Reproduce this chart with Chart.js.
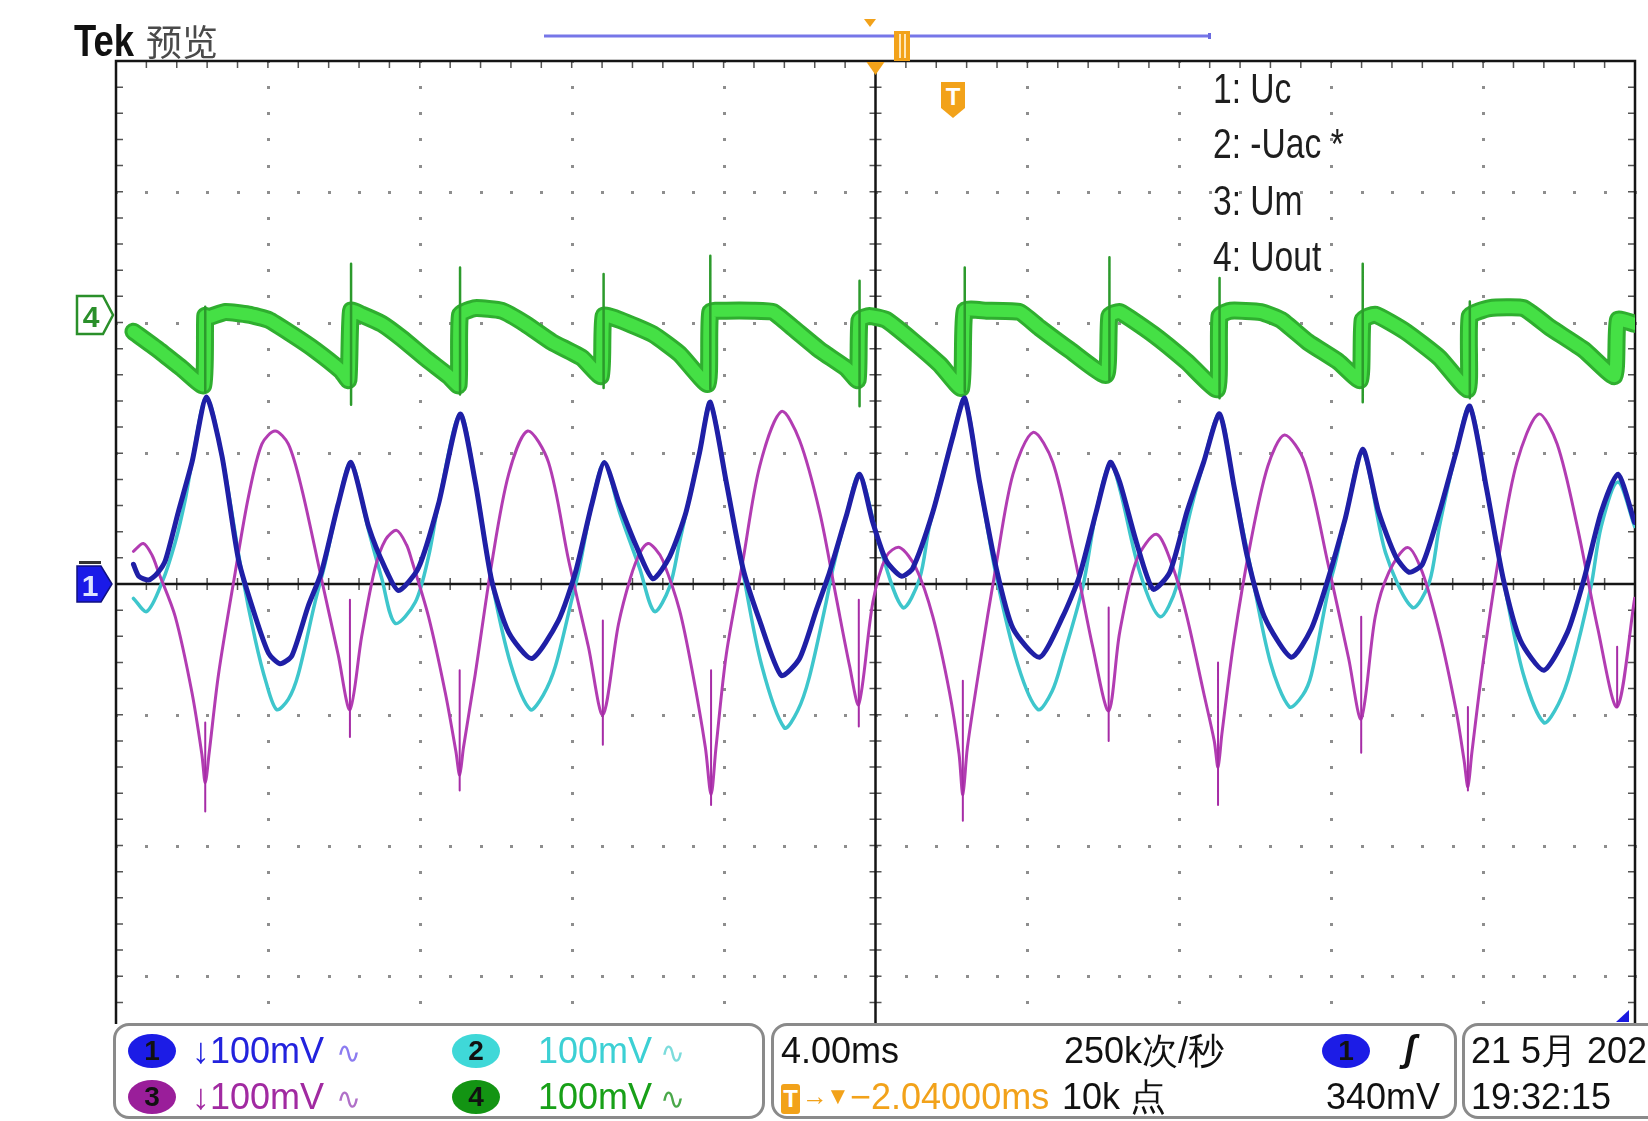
<!DOCTYPE html>
<html>
<head>
<meta charset="utf-8">
<script src="https://cdn.jsdelivr.net/npm/chart.js@4.4.1/dist/chart.umd.min.js"></script>
<style>
  html, body { margin: 0; padding: 0; background: #fff; }
  #wrap { position: relative; width: 1648px; height: 1121px; overflow: hidden; background: #fff;
          font-family: "Liberation Sans", Arial, sans-serif; }
  #scope { position: absolute; left: 0; top: 0; }
  .txt { position: absolute; white-space: nowrap; line-height: 1; transform-origin: 0 50%; }
  .lbl { position: absolute; left: 1213px; font-size: 42px; line-height: 42px; color: #1e1e1e;
         transform: scaleX(0.8); transform-origin: 0 50%; white-space: nowrap; }
  .box { position: absolute; top: 1023px; height: 96px; border: 3px solid #8a8a8a; border-radius: 16px;
         background: #fff; box-sizing: border-box; }
  .badge { position: absolute; width: 48px; height: 34px; border-radius: 50%; text-align: center;
           font: bold 28px/34px "Liberation Sans", Arial, sans-serif; color: #111; }
  .st { position: absolute; font-size: 36px; line-height: 36px; white-space: nowrap; }
  .wave { font-family: "DejaVu Sans", sans-serif; font-size: 30px; }
</style>
</head>
<body>
<div id="wrap">
  <canvas id="scope" width="1648" height="1121" style="width:1648px;height:1121px"></canvas>

  <div class="txt" style="left:74px;top:18px;font-weight:bold;font-size:45px;transform:scaleX(0.81);color:#111">Tek</div>
  <div class="txt" style="left:146px;top:22px;font-family:'Noto Sans CJK SC',sans-serif;font-size:36px;color:#4a4a4a">预览</div>

  <div class="lbl" style="top:68px">1: Uc</div>
  <div class="lbl" style="top:123px">2: -Uac *</div>
  <div class="lbl" style="top:180px">3: Um</div>
  <div class="lbl" style="top:236px">4: Uout</div>

  <div id="trigMark" style="position:absolute;left:941px;top:82px;width:24px;height:36px;background:#f2a21a;
       clip-path:polygon(0 0,100% 0,100% 72%,50% 100%,0 72%);color:#fff;font:bold 24px/30px 'Liberation Sans',sans-serif;text-align:center">T</div>

  <svg id="ch4Mark" width="40" height="42" style="position:absolute;left:75px">
    <polygon points="2,2 28,2 38,21 28,40 2,40" fill="#fff" stroke="#2a8f2a" stroke-width="2.5"/>
    <text x="16" y="33" text-anchor="middle" font-family="Liberation Sans" font-weight="bold" font-size="30" fill="#2a8f2a">4</text>
  </svg>
  <svg id="ch1Mark" width="40" height="44" style="position:absolute;left:75px">
    <rect x="4" y="1" width="22" height="3" fill="#333"/>
    <polygon points="2,6 26,6 37,24 26,42 2,42" fill="#1a1ae8" stroke="#101080" stroke-width="1.5"/>
    <text x="15" y="36" text-anchor="middle" font-family="Liberation Sans" font-weight="bold" font-size="30" fill="#dfe4ff">1</text>
  </svg>

  <!-- status bar -->
  <div class="box" style="left:113px;width:652px"></div>
  <div class="box" style="left:771px;width:686px"></div>
  <div class="box" style="left:1462px;width:240px"></div>

  <div class="badge" style="left:128px;top:1034px;background:#1c1ce6">1</div>
  <div class="st" style="left:192px;top:1033px;color:#2323dd">↓100mV</div>
  <div class="st wave" style="left:336px;top:1035px;color:#8c7cf0">∿</div>
  <div class="badge" style="left:452px;top:1034px;background:#3fd8d8">2</div>
  <div class="st" style="left:538px;top:1033px;color:#3cd0d4">100mV</div>
  <div class="st wave" style="left:660px;top:1035px;color:#7cdcdc">∿</div>

  <div class="badge" style="left:128px;top:1080px;background:#9a1e9a">3</div>
  <div class="st" style="left:192px;top:1079px;color:#a12aa1">↓100mV</div>
  <div class="st wave" style="left:336px;top:1081px;color:#b070c8">∿</div>
  <div class="badge" style="left:452px;top:1080px;background:#139413">4</div>
  <div class="st" style="left:538px;top:1079px;color:#18a018">100mV</div>
  <div class="st wave" style="left:660px;top:1081px;color:#4aa84a">∿</div>

  <div class="st" style="left:781px;top:1033px;color:#111">4.00ms</div>
  <div class="st" style="left:1064px;top:1033px;color:#111">250k次/秒</div>
  <div class="badge" style="left:1322px;top:1034px;background:#1c1ce6">1</div>
  <div class="st" style="left:1404px;top:1031px;color:#111;font-weight:bold;font-style:italic">ʃ</div>
  <div style="position:absolute;left:781px;top:1084px;width:19px;height:30px;border-radius:3px;background:#f2a21a;
       color:#fff;font:bold 24px/30px 'Liberation Sans',sans-serif;text-align:center">T</div>
  <div class="st" style="left:802px;top:1083px;color:#f2a21a;font-size:26px;line-height:26px">→</div>
  <div class="st" style="left:826px;top:1084px;color:#f2a21a;font-size:24px;line-height:24px">▼</div>
  <div class="st" style="left:850px;top:1079px;color:#f2a21a">−2.04000ms</div>
  <div class="st" style="left:1062px;top:1079px;color:#111">10k 点</div>
  <div class="st" style="left:1326px;top:1079px;color:#111">340mV</div>

  <div class="st" style="left:1471px;top:1033px;color:#111">21 5月 2021</div>
  <div class="st" style="left:1471px;top:1079px;color:#111">19:32:15</div>
</div>

<script>
  // screen graticule: 4 ms/div, 100 mV/div (values below are in screen divisions)
  const timeDivs = [-20, -16, -12, -8, -4, 0, 4, 8, 12, 16, 20];
  const voltDivs = [-4, -3, -2, -1, 0, 1, 2, 3, 4];
  const screenBottom = 1024;
  const ch1Offset = 0;
  const ch4Offset = 2.06;

  // [time ms, divisions]
  const uc = [
    [-19.54, 0.15], [-19.40, 0.06], [-19.14, 0.03], [-18.92, 0.08], [-18.70, 0.18], [-18.36, 0.55],
    [-18.00, 0.93], [-17.62, 1.43], [-17.21, 0.98], [-16.77, 0.18], [-16.33, -0.25], [-15.98, -0.53],
    [-15.68, -0.61], [-15.37, -0.55], [-14.94, -0.17], [-14.59, 0.09], [-14.15, 0.61], [-13.81, 0.93],
    [-13.35, 0.44], [-12.91, 0.12], [-12.56, -0.05], [-12.04, 0.12], [-11.51, 0.61], [-10.94, 1.30],
    [-10.54, 0.78], [-10.11, 0.03], [-9.66, -0.37], [-9.05, -0.57], [-8.35, -0.28], [-7.90, 0.09],
    [-7.47, 0.61], [-7.14, 0.93], [-6.74, 0.61], [-6.30, 0.29], [-5.86, 0.04], [-5.42, 0.21],
    [-4.99, 0.55], [-4.63, 1.01], [-4.35, 1.39], [-3.93, 0.78], [-3.49, 0.12], [-3.05, -0.28],
    [-2.48, -0.70], [-2.00, -0.57], [-1.56, -0.20], [-1.21, 0.09], [-0.77, 0.52], [-0.42, 0.84],
    [-0.07, 0.47], [0.28, 0.18], [0.68, 0.06], [0.98, 0.12], [1.51, 0.55], [2.04, 1.13],
    [2.35, 1.42], [2.74, 0.78], [3.18, 0.12], [3.62, -0.34], [4.32, -0.56], [4.93, -0.25],
    [5.37, 0.06], [5.81, 0.55], [6.18, 0.93], [6.43, 0.78], [6.87, 0.32], [7.31, -0.04],
    [7.75, 0.09], [8.20, 0.55], [8.64, 0.93], [9.06, 1.30], [9.44, 0.75], [9.79, 0.21],
    [10.24, -0.25], [10.95, -0.56], [11.48, -0.34], [11.92, 0.04], [12.37, 0.50], [12.83, 1.03],
    [13.25, 0.55], [13.70, 0.21], [14.05, 0.09], [14.40, 0.15], [14.85, 0.55], [15.29, 1.01],
    [15.65, 1.36], [16.09, 0.73], [16.53, 0.04], [16.98, -0.43], [17.60, -0.66], [18.22, -0.37],
    [18.66, 0.04], [19.11, 0.55], [19.55, 0.84], [19.99, 0.47]
  ];

  const minusUac = [
    [-19.54, -0.11], [-19.19, -0.21], [-18.79, 0.01], [-18.44, 0.32], [-18.18, 0.64], [-18.00, 0.93],
    [-17.62, 1.43], [-17.21, 0.98], [-16.69, 0.09], [-16.33, -0.43], [-16.05, -0.75], [-15.77, -0.96],
    [-15.46, -0.88], [-15.20, -0.69], [-14.76, -0.14], [-14.50, 0.15], [-14.15, 0.61], [-13.81, 0.93],
    [-13.35, 0.41], [-13.00, 0.04], [-12.65, -0.30], [-12.12, -0.14], [-11.77, 0.21], [-11.51, 0.61],
    [-10.94, 1.30], [-10.54, 0.78], [-10.11, 0.03], [-9.60, -0.62], [-9.09, -0.96], [-8.75, -0.85],
    [-8.43, -0.63], [-7.99, -0.11], [-7.82, 0.09], [-7.47, 0.61], [-7.14, 0.93], [-6.74, 0.55],
    [-6.21, 0.12], [-5.82, -0.21], [-5.42, -0.02], [-5.16, 0.32], [-4.63, 1.01], [-4.35, 1.39],
    [-3.93, 0.78], [-3.49, 0.09], [-3.00, -0.62], [-2.40, -1.10], [-2.05, -0.97], [-1.74, -0.71],
    [-1.30, -0.14], [-1.12, 0.12], [-0.77, 0.52], [-0.42, 0.84], [0.11, 0.29], [0.72, -0.18],
    [1.16, 0.04], [1.42, 0.44], [2.04, 1.13], [2.35, 1.42], [2.74, 0.78], [3.18, 0.06],
    [3.75, -0.62], [4.28, -0.96], [4.65, -0.82], [4.93, -0.57], [5.46, -0.02], [5.81, 0.55],
    [6.18, 0.93], [6.43, 0.73], [6.96, 0.09], [7.49, -0.25], [7.93, -0.02], [8.20, 0.44],
    [8.64, 0.93], [9.06, 1.30], [9.44, 0.75], [9.88, 0.12], [10.40, -0.60], [10.90, -0.94],
    [11.25, -0.85], [11.48, -0.69], [11.92, -0.05], [12.10, 0.15], [12.37, 0.50], [12.83, 1.01],
    [13.43, 0.24], [14.14, -0.18], [14.58, 0.01], [14.85, 0.44], [15.29, 1.01], [15.65, 1.36],
    [16.09, 0.73], [16.53, 0.04], [17.05, -0.68], [17.60, -1.06], [17.98, -0.92], [18.31, -0.66],
    [18.84, -0.02], [19.11, 0.44], [19.55, 0.78], [19.99, 0.44]
  ];

  const um = [
    [-19.54, 0.25], [-19.28, 0.31], [-19.05, 0.22], [-18.88, 0.09], [-18.44, -0.25], [-18.00, -0.83],
    [-17.74, -1.30], [-17.65, -1.52], [-17.55, -1.30], [-17.30, -0.69], [-16.86, 0.09], [-16.51, 0.67],
    [-16.16, 1.07], [-15.81, 1.17], [-15.46, 1.07], [-15.11, 0.73], [-14.59, 0.04], [-14.15, -0.54],
    [-13.84, -0.96], [-13.53, -0.40], [-13.18, 0.12], [-12.90, 0.34], [-12.61, 0.41], [-12.35, 0.30],
    [-12.21, 0.18], [-11.77, -0.25], [-11.33, -0.83], [-11.05, -1.28], [-10.95, -1.46], [-10.85, -1.25],
    [-10.54, -0.69], [-10.11, 0.15], [-9.66, 0.84], [-9.16, 1.17], [-8.61, 0.93], [-8.08, 0.18],
    [-7.56, -0.48], [-7.18, -1.00], [-6.77, -0.31], [-6.45, 0.05], [-6.20, 0.24], [-5.99, 0.31],
    [-5.80, 0.27], [-5.60, 0.18], [-5.16, -0.20], [-4.81, -0.69], [-4.48, -1.25], [-4.33, -1.61],
    [-4.20, -1.25], [-3.93, -0.54], [-3.49, 0.18], [-3.05, 0.90], [-2.48, 1.32], [-2.00, 1.10],
    [-1.47, 0.55], [-1.03, -0.11], [-0.68, -0.63], [-0.44, -0.92], [-0.07, -0.14], [0.28, 0.21],
    [0.63, 0.28], [1.07, 0.12], [1.51, -0.25], [1.95, -0.83], [2.20, -1.30], [2.30, -1.61],
    [2.42, -1.25], [2.74, -0.63], [3.18, 0.15], [3.62, 0.84], [4.15, 1.16], [4.67, 0.93],
    [5.20, 0.27], [5.72, -0.48], [6.14, -0.97], [6.43, -0.37], [6.87, 0.18], [7.40, 0.38],
    [7.84, 0.12], [8.20, -0.25], [8.64, -0.83], [8.92, -1.20], [9.02, -1.40], [9.12, -1.15],
    [9.44, -0.43], [9.88, 0.32], [10.33, 0.90], [10.77, 1.14], [11.30, 0.93], [11.92, 0.15],
    [12.46, -0.57], [12.79, -1.03], [13.16, -0.25], [13.52, 0.09], [14.01, 0.28], [14.40, 0.09],
    [14.85, -0.37], [15.29, -0.97], [15.50, -1.35], [15.60, -1.55], [15.70, -1.30], [16.00, -0.60],
    [16.45, 0.27], [16.89, 0.93], [17.46, 1.30], [17.95, 1.07], [18.48, 0.44], [19.02, -0.34],
    [19.53, -0.94], [19.99, -0.11]
  ];

  // [time ms, top, bottom]
  const umSpikes = [
    [-17.65, -1.06, -1.74], [-13.84, -0.12, -1.17], [-10.95, -0.66, -1.58], [-7.18, -0.28, -1.23],
    [-4.33, -0.66, -1.69], [-0.44, -0.12, -1.09], [2.30, -0.74, -1.81], [6.14, -0.18, -1.20],
    [9.02, -0.60, -1.69], [12.79, -0.25, -1.29], [15.60, -0.94, -1.58], [19.53, -0.48, -0.94]
  ];

  const uout = [
    [-19.54, 1.93], [-18.88, 1.79], [-18.27, 1.65], [-17.70, 1.52], [-17.65, 2.05], [-17.56, 2.04],
    [-17.12, 2.08], [-16.51, 2.06], [-15.98, 2.02], [-15.37, 1.91], [-14.76, 1.79], [-14.07, 1.63],
    [-13.88, 1.56], [-13.81, 2.09], [-13.53, 2.06], [-13.00, 1.99], [-12.48, 1.88], [-11.86, 1.73],
    [-11.24, 1.59], [-10.98, 1.52], [-10.94, 2.06], [-10.54, 2.11], [-9.84, 2.09], [-9.22, 1.99],
    [-8.52, 1.85], [-7.73, 1.73], [-7.23, 1.59], [-7.16, 2.05], [-6.74, 2.02], [-5.86, 1.91],
    [-5.16, 1.76], [-4.42, 1.53], [-4.35, 2.08], [-3.93, 2.09], [-3.23, 2.09], [-2.70, 2.08],
    [-2.18, 1.96], [-1.47, 1.79], [-0.77, 1.65], [-0.47, 1.56], [-0.42, 2.02], [-0.16, 2.05],
    [0.28, 2.02], [0.98, 1.86], [1.69, 1.68], [2.26, 1.50], [2.35, 2.09], [2.92, 2.09],
    [3.79, 2.08], [4.32, 1.96], [5.11, 1.79], [6.07, 1.60], [6.16, 2.05], [6.43, 2.08],
    [7.31, 1.91], [8.20, 1.70], [9.00, 1.49], [9.06, 2.05], [9.35, 2.09], [10.15, 2.08],
    [10.68, 2.02], [11.39, 1.85], [12.19, 1.70], [12.76, 1.56], [12.83, 2.02], [13.16, 2.06],
    [13.96, 1.93], [14.85, 1.73], [15.60, 1.49], [15.65, 2.05], [16.18, 2.11], [17.06, 2.11],
    [17.77, 1.96], [18.66, 1.79], [19.46, 1.59], [19.55, 2.02], [19.99, 1.99]
  ];

  const uoutSpikes = [
    [-17.65, 2.12, 1.47], [-13.81, 2.45, 1.37], [-10.94, 2.42, 1.45], [-7.16, 2.37, 1.50],
    [-4.35, 2.51, 1.49], [-0.42, 2.32, 1.36], [2.35, 2.42, 1.47], [6.16, 2.50, 1.56],
    [9.06, 2.34, 1.42], [12.83, 2.45, 1.39], [15.65, 2.16, 1.42]
  ];

  function toPoints(arr) {
    return arr.map(([t, v]) => ({ x: t, y: v }));
  }

  function toSpikes(arr) {
    const out = [];
    arr.forEach(([t, hi, lo]) => {
      out.push({ x: t, y: hi }, { x: t, y: lo }, { x: t, y: null });
    });
    return out;
  }

  function trace(data, color, width, tension) {
    return {
      data: data,
      showLine: true,
      borderColor: color,
      borderWidth: width,
      pointRadius: 0,
      tension: tension,
      spanGaps: false,
      borderJoinStyle: 'round',
      borderCapStyle: 'round'
    };
  }

  const graticule = {
    id: 'graticule',
    beforeDatasetsDraw(chart) {
      const { ctx, scales: { x, y } } = chart;
      const x0 = x.getPixelForValue(timeDivs[0]);
      const x1 = x.getPixelForValue(timeDivs[timeDivs.length - 1]);
      const yTop = y.getPixelForValue(voltDivs[voltDivs.length - 1]);
      const xc = x.getPixelForValue(0);
      const yc = y.getPixelForValue(0);
      ctx.save();

      // dotted division lines
      ctx.fillStyle = '#8e8e8e';
      timeDivs.slice(1, -1).forEach((t) => {
        if (t === 0) return;
        const px = Math.round(x.getPixelForValue(t));
        for (let k = -20; k <= 20; k++) {
          const py = Math.round(y.getPixelForValue(k / 5));
          if (py > screenBottom - 3) continue;
          ctx.fillRect(px - 1, py - 1, 3, 3);
        }
      });
      voltDivs.slice(1, -1).forEach((v) => {
        if (v === 0) return;
        const py = Math.round(y.getPixelForValue(v));
        if (py > screenBottom - 3) return;
        for (let k = -25; k <= 25; k++) {
          const px = Math.round(x.getPixelForValue(k * 0.8));
          ctx.fillRect(px - 1, py - 1, 3, 3);
        }
      });

      // minor ticks
      ctx.strokeStyle = '#555';
      ctx.lineWidth = 1.5;
      ctx.beginPath();
      for (let k = -25; k <= 25; k++) {
        const px = x.getPixelForValue(k * 0.8);
        ctx.moveTo(px, yTop); ctx.lineTo(px, yTop + 7);
        ctx.moveTo(px, yc - 6); ctx.lineTo(px, yc + 6);
      }
      for (let k = -20; k <= 20; k++) {
        const py = y.getPixelForValue(k / 5);
        if (py > screenBottom - 2) continue;
        ctx.moveTo(x0, py); ctx.lineTo(x0 + 7, py);
        ctx.moveTo(x1, py); ctx.lineTo(x1 - 7, py);
        ctx.moveTo(xc - 6, py); ctx.lineTo(xc + 6, py);
      }
      ctx.stroke();

      // frame and centre lines
      ctx.strokeStyle = '#151515';
      ctx.lineWidth = 2.5;
      ctx.beginPath();
      ctx.moveTo(x0, screenBottom); ctx.lineTo(x0, yTop); ctx.lineTo(x1, yTop); ctx.lineTo(x1, screenBottom);
      ctx.moveTo(xc, yTop); ctx.lineTo(xc, screenBottom);
      ctx.moveTo(x0, yc); ctx.lineTo(x1, yc);
      ctx.stroke();
      ctx.restore();
    },
    afterDraw(chart) {
      const { ctx, scales: { x } } = chart;
      const xc = x.getPixelForValue(0);
      ctx.save();
      // record bar at top
      ctx.strokeStyle = '#7676e8';
      ctx.lineWidth = 3;
      ctx.beginPath();
      ctx.moveTo(544, 36); ctx.lineTo(1208, 36);
      ctx.stroke();
      ctx.fillStyle = '#6a6ae0';
      ctx.fillRect(1208, 33, 3, 6);
      // expansion and trigger marks
      ctx.fillStyle = '#f2a21a';
      ctx.beginPath();
      ctx.moveTo(864, 19); ctx.lineTo(876, 19); ctx.lineTo(870, 27); ctx.closePath();
      ctx.fill();
      ctx.fillRect(894, 31, 16, 30);
      ctx.fillStyle = '#ffe7b8';
      ctx.fillRect(899, 34, 2, 24);
      ctx.fillRect(904, 34, 2, 24);
      ctx.fillStyle = '#f2a21a';
      ctx.beginPath();
      ctx.moveTo(xc - 9, 62); ctx.lineTo(xc + 9, 62); ctx.lineTo(xc, 75); ctx.closePath();
      ctx.fill();
      // ch1 level mark near the status bar
      ctx.fillStyle = '#1a1ae0';
      ctx.beginPath();
      ctx.moveTo(1616, 1022); ctx.lineTo(1629, 1022); ctx.lineTo(1629, 1010); ctx.closePath();
      ctx.fill();
      ctx.restore();
    }
  };

  const chart = new Chart(document.getElementById('scope'), {
    type: 'scatter',
    data: {
      datasets: [
        trace(toPoints(uc), '#1f1fa6', 5, 0.22),
        trace(toSpikes(umSpikes), '#a62ca6', 2, 0),
        trace(toPoints(um), '#b23cb2', 3, 0.3),
        trace(toPoints(minusUac), '#3ec6cc', 3.5, 0.3),
        trace(toSpikes(uoutSpikes), '#2c9a2c', 2.5, 0),
        trace(toPoints(uout), '#45e045', 12, 0.15),
        trace(toPoints(uout), '#2fae2f', 18, 0.15)
      ]
    },
    options: {
      responsive: false,
      animation: false,
      devicePixelRatio: 1,
      layout: { padding: { left: 116, right: 13, top: 61, bottom: 14 } },
      plugins: { legend: { display: false }, tooltip: { enabled: false } },
      scales: {
        x: { type: 'linear', min: timeDivs[0], max: timeDivs[timeDivs.length - 1], display: false },
        y: { min: voltDivs[0], max: voltDivs[voltDivs.length - 1], display: false }
      }
    },
    plugins: [graticule]
  });

  // channel ground markers follow the y scale
  const yScale = chart.scales.y;
  document.getElementById('ch4Mark').style.top = (yScale.getPixelForValue(ch4Offset) - 21) + 'px';
  document.getElementById('ch1Mark').style.top = (yScale.getPixelForValue(ch1Offset) - 24) + 'px';
</script>
</body>
</html>
